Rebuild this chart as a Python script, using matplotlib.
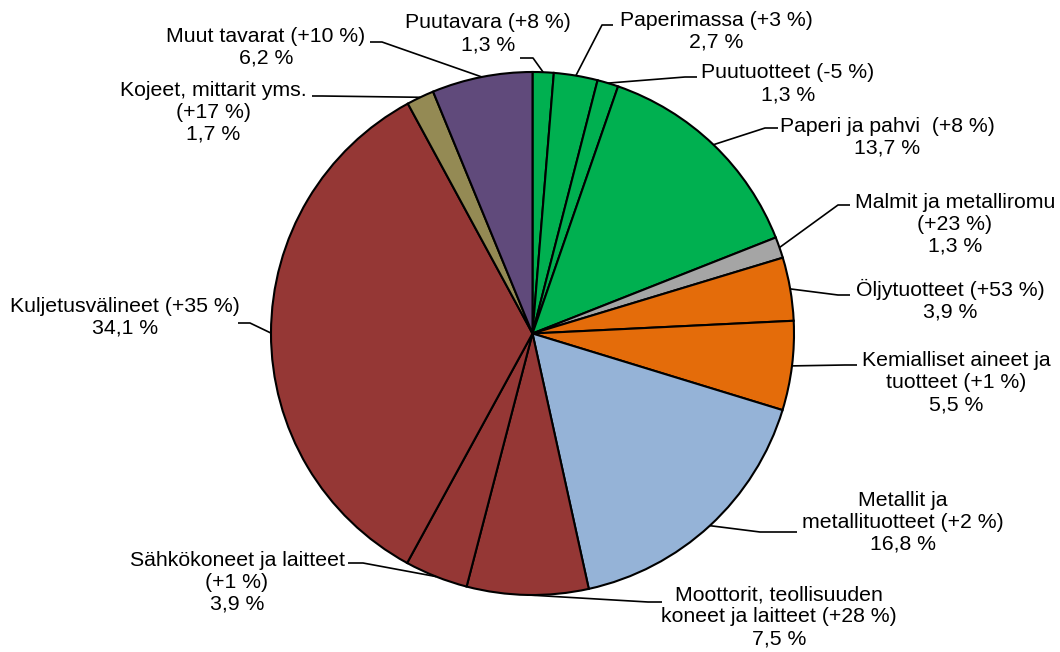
import numpy as np
import matplotlib
matplotlib.use("Agg")
import matplotlib.pyplot as plt

plt.rcParams['font.family'] = ['Liberation Sans', 'DejaVu Sans']

# ---- data ----
labels = [
    "Puutavara (+8 %)\n1,3 %",
    "Paperimassa (+3 %)\n2,7 %",
    "Puutuotteet (-5 %)\n1,3 %",
    "Paperi ja pahvi  (+8 %)\n13,7 %",
    "Malmit ja metalliromu\n(+23 %)\n1,3 %",
    "Öljytuotteet (+53 %)\n3,9 %",
    "Kemialliset aineet ja\ntuotteet (+1 %)\n5,5 %",
    "Metallit ja\nmetallituotteet (+2 %)\n16,8 %",
    "Moottorit, teollisuuden\nkoneet ja laitteet (+28 %)\n7,5 %",
    "Sähkökoneet ja laitteet\n(+1 %)\n3,9 %",
    "Kuljetusvälineet (+35 %)\n34,1 %",
    "Kojeet, mittarit yms.\n(+17 %)\n1,7 %",
    "Muut tavarat (+10 %)\n6,2 %",
]
shares = [1.3, 2.7, 1.3, 13.7, 1.3, 3.9, 5.5, 16.8, 7.5, 3.9, 34.1, 1.7, 6.2]
colors = ["#00B050", "#00B050", "#00B050", "#00B050", "#A5A5A5", "#E46C0A",
          "#E46C0A", "#95B3D7", "#953735", "#953735", "#953735", "#948A54",
          "#604A7B"]

# ---- layout (pixel coordinates, y from top) ----
W, H = 1060, 652
text_pos = [(488, 34), (716, 31), (788, 84), (887, 137), (955, 224),
            (950, 300), (956, 383), (903, 522), (779, 617), (237, 582),
            (125, 317), (213, 112), (266, 47)]
elbows = [(533, 58), (602, 25), (685, 77), (765, 128), (838, 205),
          (838, 295), (845, 365), (760, 532), (648, 602), (363, 563),
          (250, 323), (322, 96), (382, 42)]
ends = [(520, 58), (613, 25), (697, 77), (778, 128), (850, 205),
        (850, 295), (857, 365), (797, 532), (662, 602), (348, 563),
        (238, 323), (312, 96), (370, 42)]
cx, cy, R = 532.5, 333.5, 261.5

def py(y):
    return H - y

fig = plt.figure(figsize=(W / 100, H / 100), dpi=100)
ax = fig.add_axes([0, 0, 1, 1])

wedges, _ = ax.pie(shares, colors=colors, startangle=90, counterclock=False,
                   center=(cx, py(cy)), radius=R,
                   wedgeprops=dict(edgecolor='black', linewidth=1.5))
ax.set_xlim(0, W)
ax.set_ylim(0, H)
ax.set_aspect('equal')
ax.axis('off')

for w, lab, tp, el, en in zip(wedges, labels, text_pos, elbows, ends):
    th = np.deg2rad((w.theta1 + w.theta2) / 2)
    ax_, ay_ = cx + R * np.cos(th), py(cy) + R * np.sin(th)
    ax.plot([ax_, el[0], en[0]], [ay_, py(el[1]), py(en[1])],
            color='black', lw=1.2, solid_capstyle='butt')
    ax.text(tp[0], py(tp[1]), lab, ha='center', va='center',
            multialignment='center', fontsize=15.3, color='black',
            linespacing=1.2)

fig.savefig("out.png", dpi=100)
